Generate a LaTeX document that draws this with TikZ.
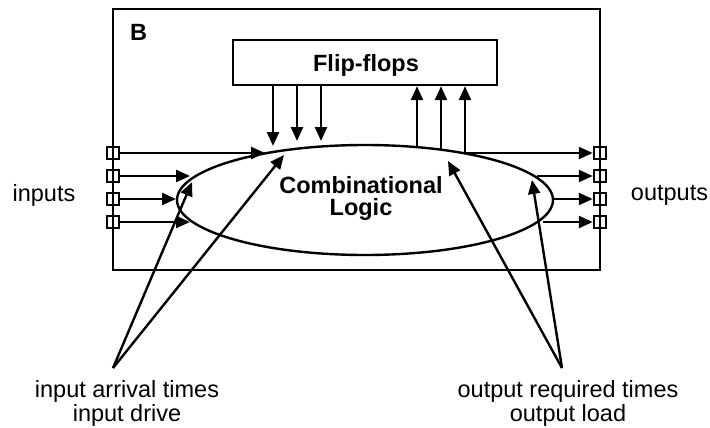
\documentclass[tikz,border=0pt]{standalone}
\usepackage{fontspec}
\setmainfont{Liberation Sans}
\usetikzlibrary{arrows.meta,shapes.geometric}
\begin{document}
\begin{tikzpicture}[x=1pt,y=-1pt,
  line width=2.4pt,
  arr/.style={-{Triangle[length=14pt,width=12pt]}},
  pin/.style={draw, line width=2pt, minimum size=12.5pt, inner sep=0pt},
  lbl/.style={font=\fontsize{23.5}{28}\selectfont, inner sep=0pt, anchor=base},
  blbl/.style={font=\fontsize{23.5}{28}\selectfont\bfseries, inner sep=0pt, anchor=base}]
\useasboundingbox (0,0) rectangle (710,428);

% outer block and its contents
\node[draw, minimum width=487pt, minimum height=261pt, inner sep=0pt] (blk) at (356.5,139.5) {};
\node[blbl, anchor=base west] (blbl) at (129,41) {B};
\node[draw, minimum width=264pt, minimum height=45pt, inner sep=0pt] (ff) at (365,62.5) {};
\node[blbl] (fftext) at (366,71) {Flip-flops};
\node[draw, ellipse, minimum width=376pt, minimum height=110pt, inner sep=0pt] (logic) at (365,200) {};
\node[blbl] (comb) at (361,193) {Combinational};
\node[blbl] (combl) at (361,215) {Logic};

% ports on the block boundary
\foreach \i/\y in {1/153,2/176,3/199,4/222} {
  \node[pin] (in\i) at (113,\y) {};
  \node[pin] (out\i) at (600,\y) {};
}
\node[lbl] (inlbl) at (44,201) {inputs};
\node[lbl] (outlbl) at (669.5,200) {outputs};

% input wires ending on the logic cloud
\coordinate (a1) at (265,153);
\coordinate (a2) at (190,176);
\coordinate (a3) at (176,199);
\coordinate (a4) at (190,222);
\foreach \i in {1,...,4} \draw[arr] (in\i.east) -- (a\i);

% flip-flop outputs into the logic
\coordinate (d1) at (273,146);
\coordinate (d2) at (297,141);
\coordinate (d3) at (321,141);
\foreach \i in {1,2,3} \draw[arr] (d\i |- ff.south) -- (d\i);

% logic outputs back to the flip-flops
\coordinate (u1) at (417,147);
\coordinate (u2) at (441,150);
\coordinate (u3) at (465,153);
\foreach \i in {1,2,3} \draw[arr] (u\i) -- (u\i |- ff.south);

% output wires
\coordinate (o2) at (537,176);
\coordinate (o3) at (553,199);
\coordinate (o4) at (543,222);
\draw[arr] (u3) -- (out1.west);
\foreach \i in {2,3,4} \draw[arr] (o\i) -- (out\i.west);

% constraint annotations
\coordinate (srcL) at (113,368);
\coordinate (srcR) at (562,368);
\coordinate (p1) at (192,182);
\coordinate (p2) at (284,155);
\coordinate (q1) at (448,161);
\coordinate (q2) at (532,180);
\draw[arr] (srcL) -- (p1);
\draw[arr] (srcL) -- (p2);
\draw[arr] (srcR) -- (q1);
\draw[arr] (srcR) -- (q2);
\node[lbl] (inat) at (127,397) {input arrival times};
\node[lbl] (indr) at (127,421) {input drive};
\node[lbl] (outrt) at (568,397) {output required times};
\node[lbl] (outld) at (568,421) {output load};
\end{tikzpicture}
\end{document}
